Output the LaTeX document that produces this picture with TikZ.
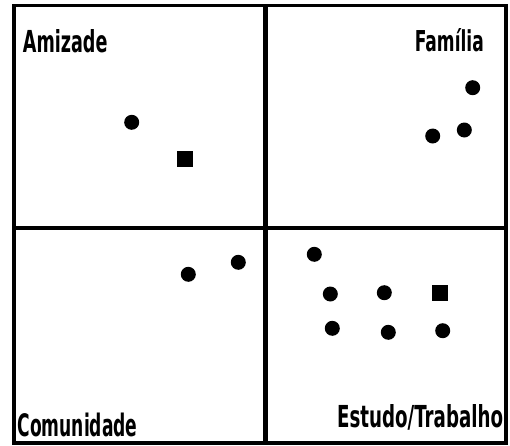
\documentclass[tikz,border=0pt]{standalone}
\usepackage{fontspec}
\usepackage{graphicx}
\newfontfamily\lblfont{DejaVu Sans}
\tikzset{
  dot/.style={circle,fill=black,inner sep=0pt,minimum size=15pt},
  sq/.style={rectangle,fill=black,inner sep=0pt,minimum size=16pt},
  frame/.style={line width=3.5pt},
  divider/.style={line width=4.5pt},
  lbl/.style={inner sep=0pt}
}
\newcommand{\lbltext}[3]{\resizebox{#1pt}{#2pt}{\lblfont\bfseries #3}}
\begin{document}
\begin{tikzpicture}[x=1pt,y=-1pt]
\useasboundingbox (0,0) rectangle (510,445);
\fill[white] (0,0) rectangle (510,445);
% frame corners and divider ends
\coordinate (tl) at (14,5.5);
\coordinate (br) at (506,443);
\coordinate (vt) at (265.5,5.5);
\coordinate (vb) at (265.5,443);
\coordinate (hl) at (14,228);
\coordinate (hr) at (506,228);
\draw[frame] (tl) rectangle (br);
\draw[divider] (vt) -- (vb);
\draw[divider] (hl) -- (hr);
% labels
\node[lbl,anchor=south west] (amizade) at (22.7,52.7) {\lbltext{84.6}{23}{Amizade}};
\node[lbl,anchor=south east] (familia) at (484,51.7) {\lbltext{69}{23}{Família}};
\node[lbl,anchor=south west] (comunidade) at (17.3,436.7) {\lbltext{120}{23.5}{Comunidade}};
\node[lbl,anchor=south east] (estudo) at (503.3,430) {\lbltext{166}{23}{Estudo/Trabalho}};
% Amizade
\node[dot] (a1) at (131.7,122.3) {};
\node[sq] (a2) at (185.3,158.7) {};
% Familia
\node[dot] (f1) at (472.7,87.7) {};
\node[dot] (f2) at (464.3,130) {};
\node[dot] (f3) at (432.7,136) {};
% Comunidade
\node[dot] (c1) at (188.3,274.3) {};
\node[dot] (c2) at (238.3,262.3) {};
% Estudo/Trabalho
\node[dot] (e1) at (314.3,254.3) {};
\node[dot] (e2) at (330.3,294) {};
\node[dot] (e3) at (384.3,292.7) {};
\node[sq] (e4) at (440,293.3) {};
\node[dot] (e5) at (332.3,328.3) {};
\node[dot] (e6) at (388.3,332.3) {};
\node[dot] (e7) at (442.7,330.7) {};
\end{tikzpicture}
\end{document}
